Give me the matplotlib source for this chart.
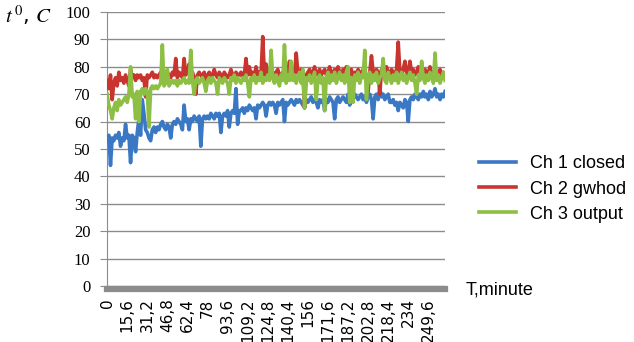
#!/usr/bin/env python3

import numpy as np
import matplotlib
matplotlib.use('Agg')
import matplotlib.pyplot as plt

# sampling step of the logger, minutes
step_min= 1.3

ch1_closed= [
    53, 55, 44, 54, 53, 55, 54, 56, 51, 54,
    53, 59, 54, 55, 45, 55, 54, 49, 56, 61,
    55, 68, 63, 57, 56, 54, 53, 57, 58, 56,
    58, 57, 59, 60, 58, 57, 59, 58, 54, 59,
    60, 59, 61, 60, 59, 57, 66, 60, 61, 57,
    61, 60, 62, 61, 60, 62, 51, 61, 62, 61,
    62, 61, 63, 62, 61, 63, 62, 63, 56, 62,
    63, 62, 64, 58, 63, 64, 63, 72, 59, 64,
    64, 65, 63, 65, 64, 66, 65, 64, 65, 61,
    66, 65, 66, 67, 66, 62, 66, 67, 66, 67,
    66, 63, 67, 66, 67, 68, 60, 67, 66, 67,
    68, 67, 66, 68, 67, 68, 67, 66, 65, 68,
    67, 68, 69, 67, 68, 67, 65, 68, 67, 68,
    64, 68, 67, 69, 68, 67, 61, 68, 69, 67,
    68, 69, 68, 67, 70, 66, 69, 68, 70, 69,
    68, 69, 70, 68, 69, 67, 69, 70, 68, 61,
    69, 70, 68, 72, 69, 70, 68, 69, 70, 67,
    67, 68, 66, 67, 64, 67, 66, 65, 68, 67,
    60, 68, 69, 68, 70, 69, 68, 70, 69, 71,
    69, 70, 68, 71, 69, 70, 72, 69, 70, 68,
    70, 69, 71]

ch2_gwhod= [
    75, 72, 77, 68, 74, 76, 73, 78, 75, 76,
    74, 77, 75, 73, 79, 76, 77, 75, 77, 76,
    77, 75, 76, 69, 77, 76, 77, 78, 76, 77,
    76, 77, 78, 76, 77, 76, 78, 77, 76, 78,
    77, 83, 76, 78, 77, 76, 83, 77, 78, 81,
    77, 78, 76, 70, 77, 78, 77, 76, 78, 72,
    77, 78, 76, 77, 79, 77, 76, 78, 77, 76,
    78, 77, 76, 77, 79, 77, 76, 78, 77, 77,
    78, 76, 77, 83, 77, 80, 77, 78, 76, 80,
    77, 78, 77, 91, 77, 81, 78, 77, 76, 78,
    77, 78, 79, 77, 76, 78, 77, 79, 78, 82,
    77, 78, 77, 85, 78, 77, 79, 78, 65, 77,
    78, 79, 77, 78, 80, 77, 78, 79, 77, 78,
    79, 77, 78, 80, 77, 78, 79, 77, 80, 78,
    77, 79, 78, 80, 77, 78, 79, 72, 78, 77,
    79, 78, 77, 79, 78, 77, 71, 78, 84, 78,
    77, 79, 78, 70, 79, 77, 78, 80, 78, 77,
    79, 78, 77, 79, 89, 78, 77, 79, 82, 78,
    77, 82, 78, 79, 77, 78, 80, 78, 77, 79,
    79, 77, 78, 80, 77, 78, 79, 77, 78, 79,
    77, 78, 77]

ch3_output= [
    70, 66, 64, 61, 65, 67, 64, 68, 66, 67,
    68, 69, 67, 70, 80, 69, 70, 61, 71, 60,
    71, 72, 70, 72, 71, 58, 72, 73, 72, 73,
    72, 73, 74, 88, 73, 74, 79, 73, 74, 75,
    74, 75, 73, 75, 74, 75, 76, 74, 75, 74,
    86, 75, 70, 75, 76, 74, 75, 76, 74, 71,
    75, 76, 74, 76, 75, 74, 70, 76, 75, 74,
    76, 75, 74, 70, 76, 75, 77, 74, 76, 75,
    74, 76, 75, 77, 74, 69, 76, 75, 77, 74,
    76, 75, 78, 74, 76, 75, 77, 75, 86, 76,
    74, 77, 75, 73, 77, 75, 88, 74, 77, 75,
    82, 75, 77, 74, 76, 78, 74, 79, 65, 76,
    75, 77, 74, 76, 78, 68, 75, 77, 74, 76,
    64, 76, 78, 74, 77, 75, 78, 74, 76, 78,
    75, 77, 74, 78, 80, 67, 76, 67, 77, 75,
    78, 74, 77, 76, 86, 68, 76, 78, 74, 77,
    75, 78, 74, 76, 77, 83, 75, 74, 78, 76,
    74, 77, 75, 78, 74, 76, 78, 75, 77, 74,
    76, 78, 75, 77, 74, 70, 77, 75, 82, 76,
    74, 77, 75, 78, 76, 74, 85, 75, 77, 74,
    76, 78, 75]

tick_labels= ['0', '15,6', '31,2', '46,8', '62,4', '78', '93,6', '109,2',
              '124,8', '140,4', '156', '171,6', '187,2', '202,8', '218,4',
              '234', '249,6']
series_names= ['Ch 1 closed', 'Ch 2 gwhod', 'Ch 3 output']
series_colors= ['#3b78c4', '#c8352f', '#8dbf45']

plt.rcParams['mathtext.fontset']= 'stix'

minutes= np.arange(len(ch1_closed))*step_min

fig= plt.figure(figsize=(6.34,3.42), dpi=100)
ax= fig.add_axes([0.169, 0.164, 0.533, 0.801])

lines= []
for vals,name,col in zip([ch1_closed, ch2_gwhod, ch3_output], series_names, series_colors):
    ln,= ax.plot(minutes, vals, color=col, lw=2.6, label=name, zorder=3)
    lines.append(ln)

ax.set_xlim(0, minutes[-1])
ax.set_ylim(0, 100)
ax.set_yticks(np.arange(0, 101, 10))
ax.yaxis.grid(True, color='#8c8c8c', lw=1.0)
ax.set_axisbelow(True)

tick_pos= [i*12*step_min for i in range(len(tick_labels))]
ax.set_xticks(tick_pos)
ax.set_xticklabels(tick_labels)
ax.tick_params(axis='x', length=0, pad=7, labelrotation=90, labelsize=11)
ax.tick_params(axis='y', length=5, color='#8c8c8c', pad=7, labelsize=12)
for lb in ax.get_xticklabels()+ax.get_yticklabels():
    lb.set_family('Liberation Serif')

for s in ['top','right']:
    ax.spines[s].set_visible(False)
ax.spines['left'].set_color('#8c8c8c')
ax.spines['bottom'].set_color('#8c8c8c')
ax.spines['bottom'].set_linewidth(4.5)
ax.spines['bottom'].set_position(('outward', 2))

fig.legend(handles=lines, loc='upper left', bbox_to_anchor=(0.742, 0.572),
           frameon=False, prop={'family':'Liberation Sans', 'size':13},
           handlelength=2.0, handletextpad=0.8, labelspacing=0.45, borderpad=0)

fig.text(0.735, 0.152, 'T,minute', family='Liberation Sans', fontsize=13, va='center')
fig.text(0.008, 0.955, r'$t^{\,0}$, $C$', fontsize=15, va='center')

plt.savefig('out.png', dpi=100)
